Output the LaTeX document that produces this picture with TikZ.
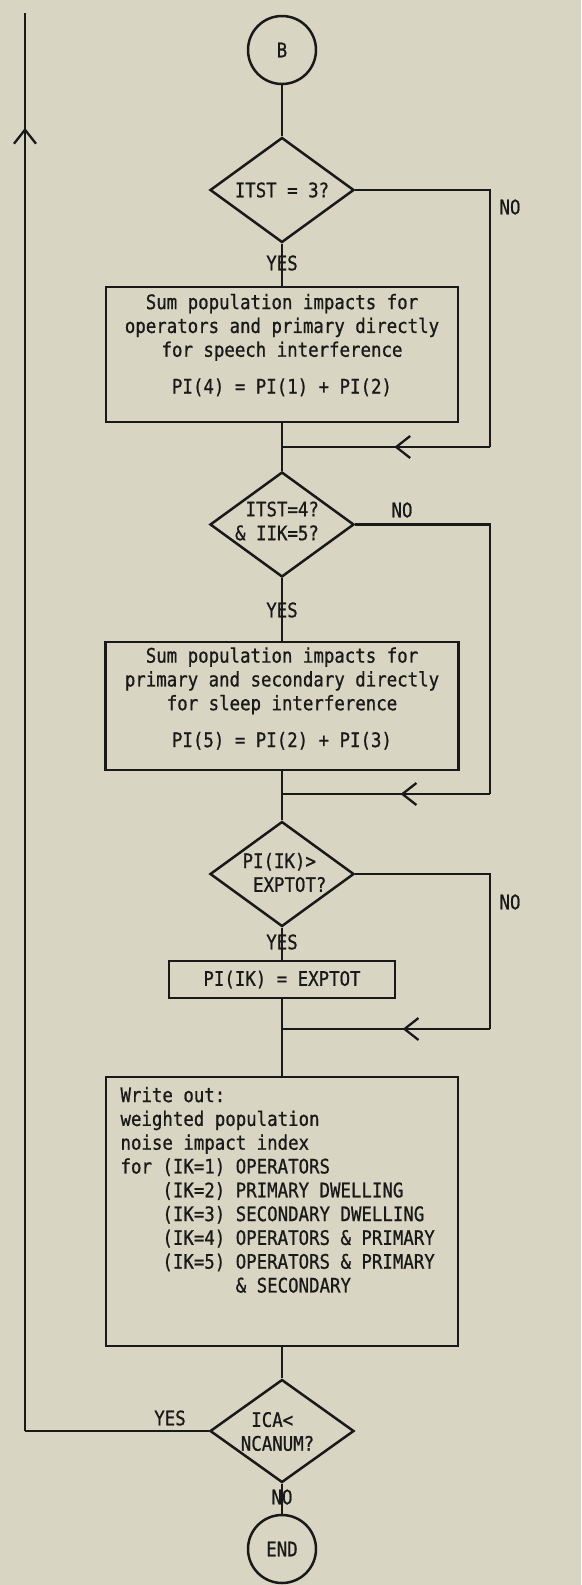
\documentclass[tikz,border=0pt]{standalone}
\usepackage{fontspec}
\newfontfamily\flowmono[FakeStretch=0.87,FakeBold=0.8]{DejaVu Sans Mono}
\usetikzlibrary{shapes.geometric,arrows.meta,decorations.markings}
\definecolor{paper}{RGB}{217,213,195}
\definecolor{ink}{RGB}{25,25,25}
\begin{document}
\begin{tikzpicture}[x=1pt,y=-1pt,
  every node/.style={font=\flowmono\fontsize{20}{23.8}\selectfont, text=ink},
  line/.style={draw=ink, line width=2.5pt},
  procbox/.style={draw=ink, line width=2.5pt, rectangle, inner sep=0pt},
  decbox/.style={draw=ink, line width=2.5pt, diamond, inner sep=0pt, minimum width=144pt, minimum height=105pt},
  term/.style={draw=ink, line width=2.5pt, circle, minimum size=68pt, inner sep=0pt},
  midarrow/.style={postaction={decorate}, decoration={markings, mark=at position #1 with {\arrow[ink, line width=2.3pt]{Straight Barb[length=14pt,width=22pt]}}}}
]
\fill[paper] (0,0) rectangle (581,1585);
\useasboundingbox (0,0) rectangle (581,1585);

% nodes
\node[term] (B) at (282,50) {B};
\node[decbox] (d1) at (282,190) {};
\node (d1t) at (282,190) {ITST = 3?};
\node[procbox, minimum width=352pt, minimum height=135pt] (p1) at (282,354.5) {};
\node[align=center] (p1t) at (282,345) {Sum population impacts for\\operators and primary directly\\for speech interference\\[13pt]PI(4) = PI(1) + PI(2)};
\coordinate (m1) at (282,447);
\coordinate (r1) at (490,447);

\node[decbox] (d2) at (282,524.5) {};
\node[align=right] (d2t) at (277,521) {ITST=4?\\\& IIK=5?};
\node[procbox, minimum width=353pt, minimum height=128pt] (p2) at (282,706) {};
\node[align=center] (p2t) at (282,698.5) {Sum population impacts for\\primary and secondary directly\\for sleep interference\\[13pt]PI(5) = PI(2) + PI(3)};
\coordinate (m2) at (282,794);
\coordinate (r2) at (490,794);

\node[decbox] (d3) at (282,874) {};
\node[align=left] (d3t) at (284.5,872.5) {PI(IK)>\\\phantom{P}EXPTOT?};
\node[procbox, minimum width=226pt, minimum height=37pt] (p3) at (282,979.5) {PI(IK) = EXPTOT};
\coordinate (m3) at (282,1029);
\coordinate (r3) at (490,1029);

\node[procbox, minimum width=352pt, minimum height=269pt] (p4) at (282,1211.5) {};
\node[anchor=west, align=left] (p4t) at (117,1191) {Write out:\\weighted population\\noise impact index\\for (IK=1) OPERATORS\\\phantom{for }(IK=2) PRIMARY DWELLING\\\phantom{for }(IK=3) SECONDARY DWELLING\\\phantom{for }(IK=4) OPERATORS \& PRIMARY\\\phantom{for }(IK=5) OPERATORS \& PRIMARY\\\phantom{for (IK=5) }\& SECONDARY};

\node[decbox, minimum height=103pt] (d4) at (282,1431) {};
\node[align=left] (d4t) at (277.5,1431.5) {\phantom{N}ICA<\\NCANUM?};
\node[term] (E) at (282,1549) {END};
\coordinate (lb) at (25,1431);
\coordinate (lt) at (25,13);

% labels
\node (no1) at (510,207) {NO};
\node (yes1) at (282,263) {YES};
\node (no2) at (402,510) {NO};
\node (yes2) at (282,610) {YES};
\node (no3) at (510,902) {NO};
\node (yes3) at (282,942) {YES};
\node (yes4) at (170,1418) {YES};
\node (no4) at (282,1497) {NO};

% connectors
\draw[line] (B) -- (d1);
\draw[line] (d1) -- (p1);
\draw[line] (d1.east) -| (r1);
\draw[line, midarrow=0.46] (r1) -- (m1);
\draw[line] (p1) -- (m1) -- (d2);
\draw[line] (d2.east) -| (r2);
\draw[line, midarrow=0.43] (r2) -- (m2);
\draw[line] (d2) -- (p2);
\draw[line] (p2) -- (m2) -- (d3);
\draw[line] (d3.east) -| (r3);
\draw[line, midarrow=0.42] (r3) -- (m3);
\draw[line] (d3) -- (p3);
\draw[line] (p3) -- (m3) -- (p4);
\draw[line] (p4) -- (d4);
\draw[line] (d4) -- (E);
\draw[line] (d4.west) -- (lb);
\draw[line, midarrow=0.919] (lb) -- (lt);
\end{tikzpicture}
\end{document}
